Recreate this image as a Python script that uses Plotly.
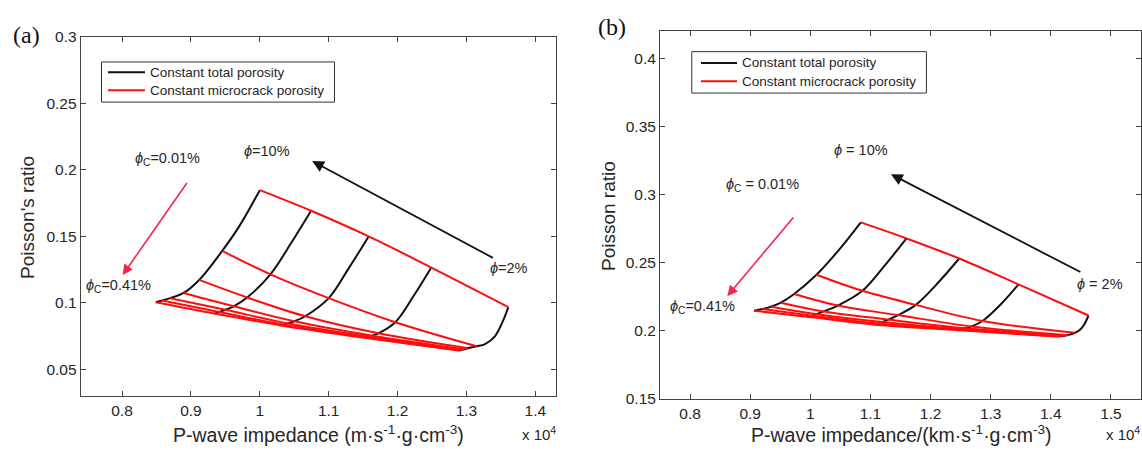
import plotly.graph_objects as go

# ---------------- data (impedance in units of 10^4) ----------------
PHI_LABELS = ["10%", "8%", "6%", "4%", "2%"]          # total porosity (black curves)
PHIC_LABELS = ["0.01%", "", "", "", "", "", "0.41%"]   # microcrack porosity (red curves)
LEGEND_LABELS = ["Constant total porosity", "Constant microcrack porosity"]

# Panel (a): nodes [phi][phic]
a_imp = [
    [1.000, 0.9454, 0.912, 0.8893, 0.870, 0.858, 0.849],
    [1.0744, 1.0154, 0.9816, 0.962, 0.950, 0.941, 0.934],
    [1.158, 1.100, 1.066, 1.050, 1.041, 1.035, 1.031],
    [1.249, 1.1967, 1.1724, 1.163, 1.158, 1.155, 1.152],
    [1.3608, 1.315, 1.302, 1.297, 1.2935, 1.291, 1.2884],
]
a_pr = [
    [0.1848, 0.1391, 0.1173, 0.1075, 0.1036, 0.1018, 0.1005],
    [0.1693, 0.1215, 0.1041, 0.0975, 0.0948, 0.0932, 0.0920],
    [0.1500, 0.1036, 0.0900, 0.0862, 0.0846, 0.0837, 0.0831],
    [0.1266, 0.0855, 0.0772, 0.0754, 0.0746, 0.0741, 0.0738],
    [0.0969, 0.0674, 0.0660, 0.0652, 0.0648, 0.0645, 0.0643],
]
# extra points on black curves between the two upper nodes
a_mid_imp = [[0.9696], [1.0455], [1.129], [1.223], [1.3536, 1.3416, 1.327]]
a_mid_pr = [[0.1572], [0.1450], [0.1260], [0.1050], [0.0872, 0.0751, 0.0691]]

# Panel (b): nodes [phi][phic]
b_imp = [
    [1.084, 1.0102, 0.9731, 0.9509, 0.9342, 0.9204, 0.9065],
    [1.160, 1.0867, 1.046, 1.022, 1.010, 1.002, 0.995],
    [1.2476, 1.1755, 1.146, 1.130, 1.120, 1.113, 1.108],
    [1.3463, 1.2864, 1.268, 1.259, 1.254, 1.250, 1.247],
    [1.4627, 1.440, 1.428, 1.421, 1.416, 1.412, 1.409],
]
b_pr = [
    [0.2795, 0.2411, 0.2270, 0.2206, 0.2176, 0.2159, 0.2147],
    [0.2677, 0.2293, 0.2185, 0.2142, 0.2122, 0.2111, 0.2103],
    [0.2530, 0.2190, 0.2115, 0.2082, 0.2065, 0.2053, 0.2045],
    [0.2340, 0.2072, 0.2032, 0.2018, 0.2011, 0.2007, 0.2004],
    [0.2112, 0.1985, 0.1968, 0.1962, 0.1960, 0.1959, 0.1958],
]
b_mid_imp = [[1.048], [1.124], [1.212], [1.317], [1.455, 1.448]]
b_mid_pr = [[0.2595], [0.2480], [0.2350], [0.2195], [0.2042, 0.2005]]

A_XTICKS = [0.8, 0.9, 1.0, 1.1, 1.2, 1.3, 1.4]
A_YTICKS = [0.05, 0.1, 0.15, 0.2, 0.25, 0.3]
B_XTICKS = [0.8, 0.9, 1.0, 1.1, 1.2, 1.3, 1.4, 1.5]
B_YTICKS = [0.15, 0.2, 0.25, 0.3, 0.35, 0.4]

# ---------------- figure ----------------
W, H = 1142, 457
BLACK = "#111111"
RED = "#ff0d0d"
ARROW_RED = "#f5244f"
FONT = "Liberation Sans, Arial, sans-serif"
SERIF = "Liberation Serif, Times New Roman, serif"
TXT = "#262626"

fig = go.Figure()


def add_panel(imp, pr, mid_imp, mid_pr, xa, ya):
    n_phi = len(imp)
    n_c = len(imp[0])
    for i in range(n_phi):
        xs = [imp[i][0]] + mid_imp[i] + imp[i][1:]
        ys = [pr[i][0]] + mid_pr[i] + pr[i][1:]
        fig.add_trace(go.Scatter(
            x=xs, y=ys, mode="lines", xaxis=xa, yaxis=ya,
            line=dict(color=BLACK, width=2, shape="spline", smoothing=1.0),
            name=LEGEND_LABELS[0], showlegend=False, hoverinfo="skip"))
    for j in range(n_c):
        xs = [imp[i][j] for i in range(n_phi)]
        ys = [pr[i][j] for i in range(n_phi)]
        fig.add_trace(go.Scatter(
            x=xs, y=ys, mode="lines", xaxis=xa, yaxis=ya,
            line=dict(color=RED, width=2, shape="spline", smoothing=1.0),
            name=LEGEND_LABELS[1], showlegend=False, hoverinfo="skip"))


add_panel(a_imp, a_pr, a_mid_imp, a_mid_pr, "x", "y")
add_panel(b_imp, b_pr, b_mid_imp, b_mid_pr, "x2", "y2")

axis_common = dict(
    showline=True, linecolor="#444444", linewidth=1, mirror="ticks",
    ticks="inside", ticklen=5, tickcolor="#444444", showgrid=False,
    zeroline=False, tickfont=dict(family=FONT, size=15.5, color=TXT),
)

fig.update_layout(
    width=W, height=H, margin=dict(l=0, r=0, t=0, b=0),
    paper_bgcolor="white", plot_bgcolor="white", showlegend=False,
    xaxis=dict(domain=[80.7 / W, 556 / W], range=[0.74, 1.43], tickvals=A_XTICKS,
               anchor="y", **axis_common),
    yaxis=dict(domain=[1 - 402 / H, 1 - 29 / H], range=[0.03, 0.3], tickvals=A_YTICKS,
               anchor="x", **axis_common),
    xaxis2=dict(domain=[660 / W, 1141 / W], range=[0.75, 1.55], tickvals=B_XTICKS,
                anchor="y2", **axis_common),
    yaxis2=dict(domain=[1 - 405 / H, 1 - 22.7 / H], range=[0.15, 0.42], tickvals=B_YTICKS,
                anchor="x2", **axis_common),
)

ann = []
shapes = []


def paper_text(text, px, py, size, angle=0, family=FONT, xanchor="center", color=TXT):
    ann.append(dict(text=text, x=px / W, y=1 - py / H, xref="paper", yref="paper",
                    showarrow=False, textangle=angle, xanchor=xanchor, yanchor="middle",
                    font=dict(family=family, size=size, color=color)))


def legend_box(x0, y0, x1, y1, line_x0, line_x1, ly0, ly1, text_x):
    shapes.append(dict(type="rect", xref="paper", yref="paper",
                       x0=x0 / W, x1=x1 / W, y0=1 - y0 / H, y1=1 - y1 / H,
                       line=dict(color="#333333", width=1), fillcolor="white"))
    for ly, col, lab in ((ly0, BLACK, LEGEND_LABELS[0]), (ly1, RED, LEGEND_LABELS[1])):
        shapes.append(dict(type="line", xref="paper", yref="paper",
                           x0=line_x0 / W, x1=line_x1 / W, y0=1 - ly / H, y1=1 - ly / H,
                           line=dict(color=col, width=2)))
        paper_text(lab, text_x, ly, 13.5, xanchor="left")


legend_box(101.5, 55, 334.5, 96.7, 108, 145, 65.7, 84.3, 148)
legend_box(691.8, 44.3, 926.4, 87.3, 701, 737, 56, 75, 740)

paper_text("(a)", 26, 27, 24, family=SERIF, color="#111111")
paper_text("(b)", 612, 19, 24, family=SERIF, color="#111111")
paper_text("Poisson's ratio", 28, 217, 19, angle=-90)
paper_text("Poisson ratio", 608, 215, 19, angle=-90)
paper_text("P-wave impedance (m·s<sup>-1</sup>·g·cm<sup>-3</sup>)", 318, 441, 19.5)
paper_text("P-wave impedance/(km·s<sup>-1</sup>·g·cm<sup>-3</sup>)", 901, 441, 19.5)
paper_text("x 10<sup>4</sup>", 520, 441, 15, xanchor="left")
paper_text("x 10<sup>4</sup>", 1104, 441, 15, xanchor="left")


def data_text(text, x, y, xr, yr, size=14.5):
    ann.append(dict(text=text, x=x, y=y, xref=xr, yref=yr, showarrow=False,
                    xanchor="center", yanchor="middle",
                    font=dict(family=FONT, size=size, color=TXT)))


def arrow(x0, y0, x1, y1, xr, yr, color, width):
    ann.append(dict(text="", x=x1, y=y1, ax=x0, ay=y0, xref=xr, yref=yr,
                    axref=xr, ayref=yr, showarrow=True, arrowhead=2,
                    arrowsize=1.3, arrowwidth=width, arrowcolor=color))


PHI = "<i>ϕ</i>"
# panel (a)
data_text(PHI + "=" + PHI_LABELS[0], 1.01, 0.2145, "x", "y")
data_text(PHI + "=" + PHI_LABELS[-1], 1.362, 0.126, "x", "y")
data_text(PHI + "<sub>C</sub>=" + PHIC_LABELS[0], 0.866, 0.2085, "x", "y")
data_text(PHI + "<sub>C</sub>=" + PHIC_LABELS[-1], 0.795, 0.113, "x", "y")
arrow(1.3406, 0.1333, 1.076, 0.2067, "x", "y", BLACK, 1.8)
arrow(0.8957, 0.1913, 0.8009, 0.121, "x", "y", ARROW_RED, 1.6)
# panel (b)
data_text(PHI + " = " + PHI_LABELS[0], 1.0845, 0.3329, "x2", "y2")
data_text(PHI + " = " + PHI_LABELS[-1], 1.481, 0.234, "x2", "y2")
data_text(PHI + "<sub>C</sub> = " + PHIC_LABELS[0], 0.921, 0.307, "x2", "y2")
data_text(PHI + "<sub>C</sub>=" + PHIC_LABELS[-1], 0.82, 0.2176, "x2", "y2")
arrow(1.4517, 0.2425, 1.1341, 0.3148, "x2", "y2", BLACK, 1.8)
arrow(0.9739, 0.2842, 0.8619, 0.2254, "x2", "y2", ARROW_RED, 1.6)

fig.update_layout(annotations=ann, shapes=shapes)
fig.write_html("out.html", config={"displayModeBar": False},
               post_script="document.body.style.margin='0px';document.body.style.overflow='hidden';")
